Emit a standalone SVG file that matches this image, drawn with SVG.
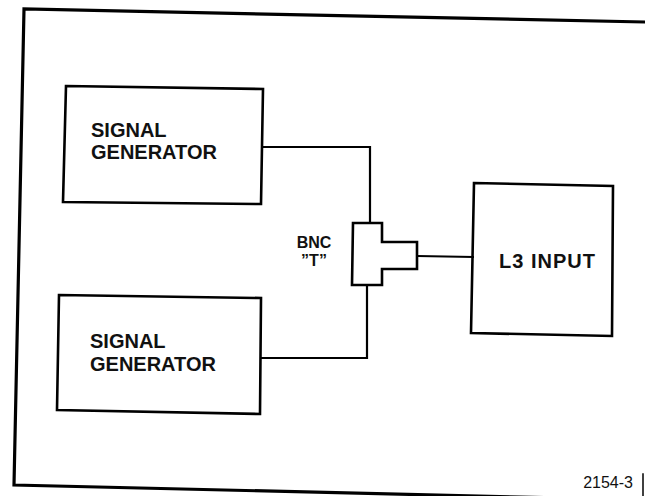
<svg xmlns="http://www.w3.org/2000/svg" width="645" height="496" viewBox="0 0 645 496">
<style>
.frame{fill:none;stroke:#000;stroke-width:3.2;stroke-linejoin:miter;stroke-linecap:square}
.box{fill:none;stroke:#000;stroke-width:2.6;stroke-linejoin:miter}
.wire{fill:none;stroke:#000;stroke-width:2.2}
.lbl{font-family:"Liberation Sans",Arial,sans-serif;font-weight:bold;font-size:20px;fill:#111}
.small{font-size:16px}
.num{font-family:"Liberation Sans",Arial,sans-serif;font-size:16px;fill:#111}
</style>
<rect width="645" height="496" fill="#fff"/>
<g id="frame">
<polyline class="frame" points="645,22 24,9 14,485 645,500"/>
<line class="frame" x1="643" y1="474" x2="643" y2="496" style="stroke-width:1.5"/>
</g>
<g id="connectors">
<polyline class="wire" points="263,147 370,147 370,223"/>
<polyline class="wire" points="260,358 367,358 367,285"/>
<line class="wire" x1="417" y1="256" x2="474" y2="257"/>
</g>
<g id="gen1">
<polygon class="box" points="66,86 263,89 261,204 63,202"/>
<text class="lbl" x="91" y="137">SIGNAL</text>
<text class="lbl" x="91" y="159">GENERATOR</text>
</g>
<g id="gen2">
<polygon class="box" points="59,295 261,298 260,414 57,410"/>
<text class="lbl" x="90" y="348">SIGNAL</text>
<text class="lbl" x="90" y="371">GENERATOR</text>
</g>
<g id="bnc-t">
<polygon class="box" points="353,223 382,223 382,242 417,242 417,269 382,269 382,285 352,285"/>
<text class="lbl small" x="314" y="248" text-anchor="middle">BNC</text>
<text class="lbl small" x="314" y="266" text-anchor="middle">”T”</text>
</g>
<g id="l3input">
<polygon class="box" points="474,183 613,186 612,336 471,333"/>
<text class="lbl" x="499" y="268" style="letter-spacing:1px">L3 INPUT</text>
</g>
<text class="num" x="633" y="488" text-anchor="end">2154-3</text>
</svg>
